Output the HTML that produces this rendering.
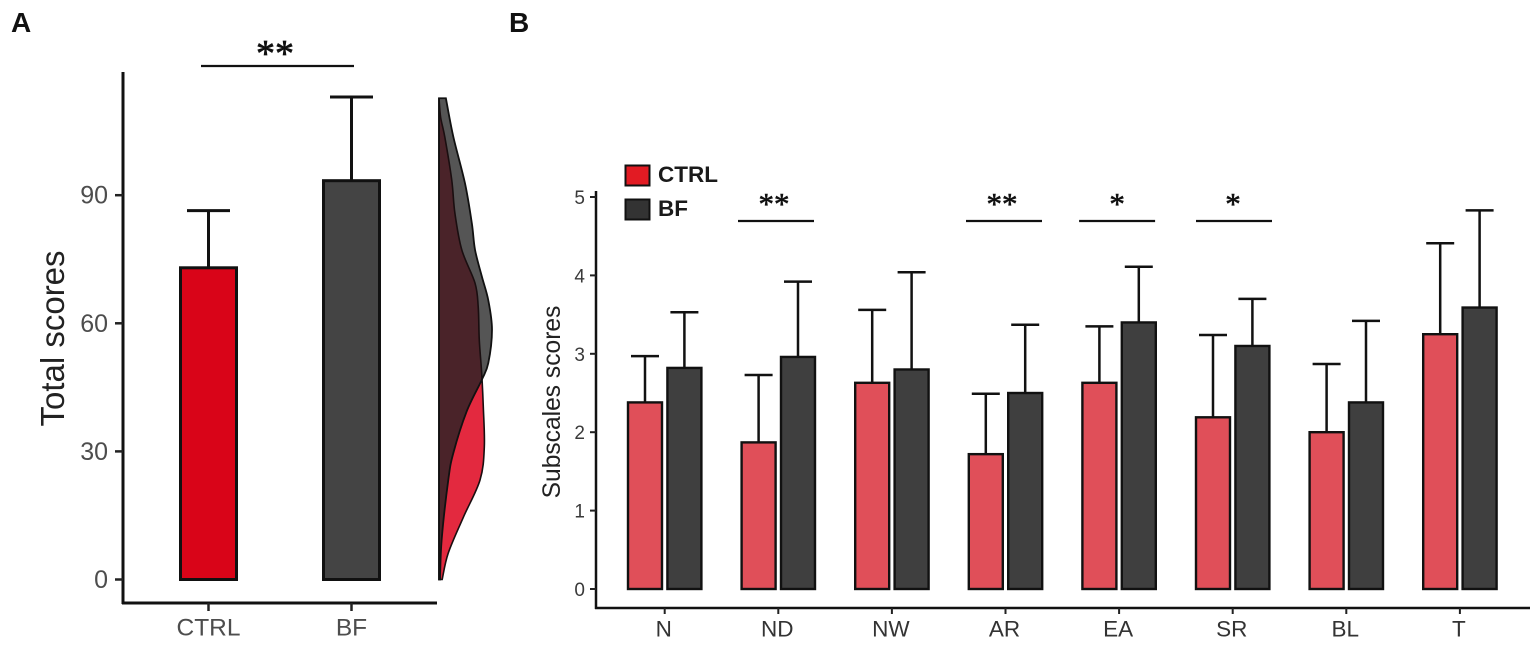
<!DOCTYPE html>
<html>
<head>
<meta charset="utf-8">
<title>Total and subscale scores</title>
<style>
html,body{margin:0;padding:0;background:#fff;width:1535px;height:646px;overflow:hidden}
svg{display:block;font-family:"Liberation Sans",sans-serif}
</style>
</head>
<body>
<svg id="fig" width="1535" height="646" viewBox="0 0 1535 646" xmlns="http://www.w3.org/2000/svg">
  <text x="11" y="32" font-size="28" font-weight="bold" fill="#111">A</text>
  <text x="509" y="32" font-size="28" font-weight="bold" fill="#111">B</text>
  <text transform="translate(64,338.5) rotate(-90)" text-anchor="middle" font-size="33" fill="#222">Total scores</text>
  <text transform="translate(560,402) rotate(-90)" text-anchor="middle" font-size="24.6" fill="#222">Subscales scores</text>
  <rect x="625.5" y="165.5" width="24" height="20" fill="#e21b23" stroke="#111" stroke-width="2"/>
  <rect x="625.5" y="199.5" width="24" height="20" fill="#333" stroke="#111" stroke-width="2"/>
  <text x="658" y="182" font-size="22.5" font-weight="bold" fill="#1a1a1a">CTRL</text>
  <text x="658" y="216" font-size="22.5" font-weight="bold" fill="#1a1a1a">BF</text>
</svg>
<script>
// Panel A data
var totalGroups = ['CTRL', 'BF'];
var totalMeans = [73, 93.4];
var totalUpper = [86.4, 113];
var totalTicks = [0, 30, 60, 90];
var ctrlDensityScores = [112.8, 108.3, 103.6, 93.6, 85.8, 77.2, 69.4, 63.8, 56.1, 48.4, 40.4, 31, 23.3, 14.6, 6.2, 0];
var ctrlDensityValues = [0, 0.03, 0.11, 0.24, 0.30, 0.43, 0.68, 0.74, 0.76, 0.805, 0.836, 0.855, 0.774, 0.46, 0.175, 0.06];
var bfDensityScores = [112.7, 103.7, 92.8, 83.4, 77.2, 70.9, 65.4, 58.5, 50.7, 46.7, 39.3, 29.6, 23.3, 9.3, 0];
var bfDensityValues = [0.13, 0.27, 0.49, 0.62, 0.68, 0.81, 0.93, 1.0, 0.93, 0.805, 0.52, 0.27, 0.175, 0.05, 0.02];

// Panel B data
var subscales = ['N', 'ND', 'NW', 'AR', 'EA', 'SR', 'BL', 'T'];
var subCtrlMeans = [2.38, 1.87, 2.63, 1.72, 2.63, 2.19, 2.0, 3.25];
var subCtrlUpper = [2.97, 2.73, 3.56, 2.49, 3.35, 3.24, 2.87, 4.41];
var subBfMeans = [2.82, 2.96, 2.80, 2.50, 3.40, 3.10, 2.38, 3.59];
var subBfUpper = [3.53, 3.92, 4.04, 3.37, 4.11, 3.70, 3.42, 4.83];
var subTicks = [0, 1, 2, 3, 4, 5];
var subSigIndex = [1, 3, 4, 5];
var subSigLabels = ['**', '**', '*', '*'];

var svg = document.getElementById('fig');
var NS = 'http://www.w3.org/2000/svg';

function make(tag, props, text) {
  var el = document.createElementNS(NS, tag);
  for (var k in props) el.setAttribute(k, props[k]);
  if (text !== undefined) el.textContent = text;
  svg.appendChild(el);
  return el;
}
function line(x1, y1, x2, y2, w, color) {
  return make('line', {x1: x1, y1: y1, x2: x2, y2: y2, stroke: color || '#111', 'stroke-width': w});
}

// Scales
function yA(v) { return 579.5 - v * 4.27; }
function xA(i) { return 208.5 + i * 143; }
function densX(d) { return 439 + d * 53; }
function yB(v) { return 589 - v * 78.4; }
function xB(i) { return 664.7 + i * 113.6; }

function smoothPath(scores, values) {
  var p = scores.map(function (s, i) { return [densX(values[i]), yA(s)]; });
  var d = 'M' + densX(0) + ' ' + p[0][1] + 'L' + p[0][0] + ' ' + p[0][1];
  for (var i = 0; i < p.length - 1; i++) {
    var a = p[Math.max(i - 1, 0)], b = p[i], c = p[i + 1], e = p[Math.min(i + 2, p.length - 1)];
    d += 'C' + (b[0] + (c[0] - a[0]) / 6) + ' ' + (b[1] + (c[1] - a[1]) / 6) + ' ' +
      (c[0] - (e[0] - b[0]) / 6) + ' ' + (c[1] - (e[1] - b[1]) / 6) + ' ' + c[0] + ' ' + c[1];
  }
  return d + 'L' + densX(0) + ' ' + p[p.length - 1][1] + 'Z';
}

// Panel A axes
var el;
el = line(123, 72, 123, 604, 3);


el = line(122, 603, 437, 603, 3);



totalTicks.forEach(function (t) {
  var tick = line(115, yA(t), 123, yA(t), 2.5, '#222');
  
  
  var lab = make('text', {x: 108, y: yA(t) + 8.5, 'text-anchor': 'end', 'font-size': 25, fill: '#4d4d4d'}, t);
  
  
});

var totalFills = ['#d90418', '#444444'];
totalGroups.forEach(function (g, i) {
  var cx = xA(i);
  var w = line(cx, yA(totalUpper[i]), cx, yA(totalMeans[i]), 3);
  
  
  var cap = line(cx - 21.5, yA(totalUpper[i]), cx + 21.5, yA(totalUpper[i]), 3);
  
  
  var bar = make('rect', {x: cx - 28, y: yA(totalMeans[i]), width: 56, height: yA(0) - yA(totalMeans[i]), fill: totalFills[i], stroke: '#111', 'stroke-width': 3});
  
  
  var tick = line(cx, 603, cx, 611, 2.5, '#222');
  
  
  var lab = make('text', {x: cx, y: 635.5, 'text-anchor': 'middle', 'font-size': 24.5, fill: '#4d4d4d'}, g);
  
  
});

var sigA = line(201, 66, 354, 66, 2.2);


var starsA = make('text', {x: 275, y: 66, 'text-anchor': 'middle', 'font-size': 38, fill: '#111', stroke: '#111', 'stroke-width': 0.7, 'font-family': '"Liberation Serif",serif'}, '**');



// Density
var bfPath = smoothPath(bfDensityScores, bfDensityValues);
var ctrlPath = smoothPath(ctrlDensityScores, ctrlDensityValues);
var defs = make('defs', {});
var clip = document.createElementNS(NS, 'clipPath');
clip.setAttribute('id', 'bf-clip');
var clipP = document.createElementNS(NS, 'path');
clipP.setAttribute('d', bfPath);
clip.appendChild(clipP);
defs.appendChild(clip);

var dBf = make('path', {d: bfPath, fill: '#555555', stroke: 'none'});


var dCtrl = make('path', {d: ctrlPath, fill: '#e3293f', stroke: 'none'});


var dOver = make('path', {d: ctrlPath, fill: '#4a2329', stroke: 'none', 'clip-path': 'url(#bf-clip)'});


var dCtrlLine = make('path', {d: ctrlPath, fill: 'none', stroke: '#1a0e10', 'stroke-width': 1.6});


var dBfLine = make('path', {d: bfPath, fill: 'none', stroke: '#111', 'stroke-width': 1.8});



// Panel B axes
el = line(596, 191, 596, 609, 2.5);


el = line(595, 608, 1530, 608, 2.5);



subTicks.forEach(function (t) {
  var tick = line(590, yB(t), 596, yB(t), 2, '#222');
  
  
  var lab = make('text', {x: 585, y: yB(t) + 7, 'text-anchor': 'end', 'font-size': 19, fill: '#3a3a3a'}, t);
  
  
});

function subBar(cx, mean, upper, fill, name) {
  var w = line(cx, yB(upper), cx, yB(mean), 2.5);
  
  
  var cap = line(cx - 14, yB(upper), cx + 14, yB(upper), 2.5);
  
  
  var bar = make('rect', {x: cx - 17, y: yB(mean), width: 34, height: yB(0) - yB(mean), fill: fill, stroke: '#111', 'stroke-width': 2.4});
  
  
}

subscales.forEach(function (s, i) {
  var cx = xB(i);
  subBar(cx - 19.7, subCtrlMeans[i], subCtrlUpper[i], '#e04f59', 'ctrl-' + s.toLowerCase());
  subBar(cx + 19.7, subBfMeans[i], subBfUpper[i], '#3f3f3f', 'bf-' + s.toLowerCase());
  var tick = line(cx, 608, cx, 614, 2, '#222');
  
  
  var lab = make('text', {x: cx - 1, y: 636.5, 'text-anchor': 'middle', 'font-size': 22.5, fill: '#333'}, s);
  
  
});

subSigIndex.forEach(function (idx, i) {
  var nudgeLine = [-2.3, -1.5, -2, 1.3][i];
  var nudgeStar = [-2, -2, 0, -1][i];
  var cx = xB(idx) + nudgeLine;
  var sig = line(cx - 38, 221, cx + 38, 221, 2.2);
  
  
  var st = make('text', {x: cx + nudgeStar, y: 214, 'text-anchor': 'middle', 'font-size': 31, fill: '#111', stroke: '#111', 'stroke-width': 0.6, 'font-family': '"Liberation Serif",serif'}, subSigLabels[i]);
  
  
});
</script>
</body>
</html>
